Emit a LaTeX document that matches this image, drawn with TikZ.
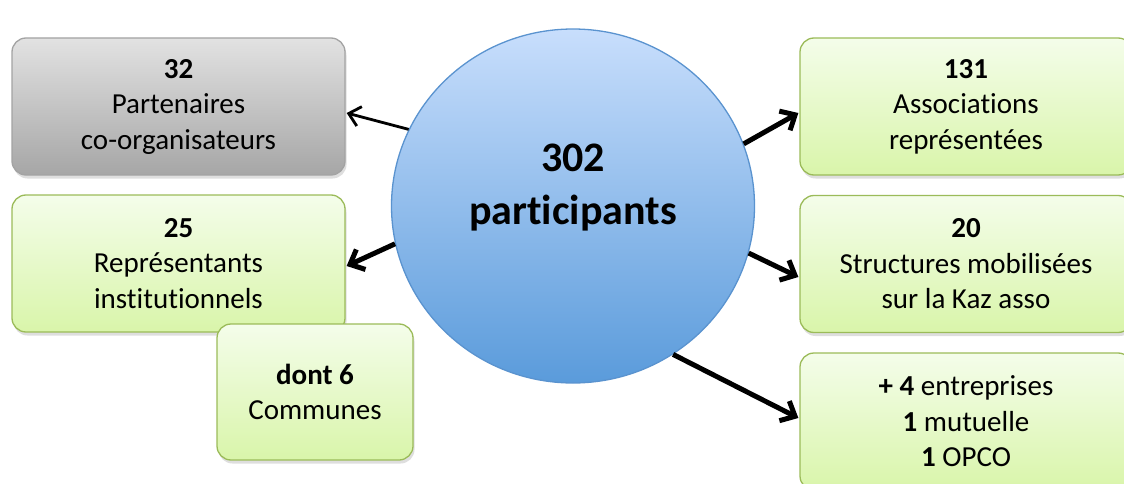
\documentclass[tikz,border=0pt]{standalone}
\usepackage{fontspec}
\setmainfont{Carlito}[Ligatures=NoCommon]
\usetikzlibrary{arrows.meta,shadows,shapes.geometric,calc}

\definecolor{greenedge}{HTML}{9BBB59}
\definecolor{greentop}{HTML}{F4FDEA}
\definecolor{greenbot}{HTML}{D9F5AA}
\definecolor{greytop}{HTML}{E2E2E2}
\definecolor{greybot}{HTML}{A6A6A6}
\definecolor{greyedge}{HTML}{A3A3A3}
\definecolor{bluetop}{HTML}{C8DEFC}
\definecolor{bluemid}{HTML}{76B1F7}
\definecolor{bluebot}{HTML}{5A9BDB}
\definecolor{blueedge}{HTML}{5A93CF}

\tikzset{
    infobox/.style={rounded corners=14pt, line width=1.3pt, inner sep=0pt,
        minimum width=333pt, minimum height=137pt,
        font=\fontsize{29}{35.5}\selectfont,
        drop shadow={shadow xshift=1.5pt, shadow yshift=-3.5pt, opacity=.13, fill=black}},
    greenbox/.style={infobox, draw=greenedge, top color=greentop, bottom color=greenbot},
    greybox/.style={infobox, draw=greyedge, top color=greytop, bottom color=greybot},
    thinarrow/.style={-{Straight Barb[length=11pt, width=20pt]}, line width=2.8pt},
    thickarrow/.style={-{Straight Barb[length=12pt, width=22pt]}, line width=5pt}
}

\begin{document}
\begin{tikzpicture}[x=1pt, y=-1pt, every text node part/.style={align=center}]
        \clip (0,0) rectangle (1124,484);
        \useasboundingbox (0,0) rectangle (1124,484);

        % centre
        \node(part)[ellipse, draw=blueedge, line width=1.3pt, top color=bluetop, middle color=bluemid, bottom color=bluebot,
            minimum width=363pt, minimum height=354pt, inner sep=0pt] at (573,206) {};
        \node(partlbl) at (573,188)[font=\bfseries\fontsize{42}{53}\selectfont]{302\\participants};

        % left side
        \node(ptn)[greybox] at (178.5,106.5){\textbf{32}\\Partenaires\\co-organisateurs};
        \node(inst)[greenbox] at (178.5,263.5){\textbf{25}\\Représentants\\institutionnels};
        \node(comm)[greenbox, minimum width=196pt, minimum height=136pt] at (315,392){\textbf{dont 6}\\Communes};

        % right side
        \node(asso)[greenbox, minimum width=332pt] at (966,106.5){\textbf{131}\\Associations\\représentées};
        \node(kaz)[greenbox, minimum width=332pt] at (966,264){\textbf{20}\\Structures mobilisées\\sur la Kaz asso};
        \node(entr)[greenbox, minimum width=332pt] at (966,421.5){\textbf{+ 4} entreprises\\\textbf{1} mutuelle\\\textbf{1} OPCO};

        \draw[thinarrow](part.155) -- ($(ptn.east)+(1,6.5)$);
        \draw[thickarrow](part.192) -- ($(inst.east)+(1,2.5)$);
        \draw[thickarrow](part.20) -- ($(asso.west)+(-1,6.5)$);
        \draw[thickarrow](part.-15) -- ($(kaz.west)+(-1,13)$);
        \draw[thickarrow](part.-56) -- ($(entr.west)+(-1,-3.5)$);

    \end{tikzpicture}
\end{document}
